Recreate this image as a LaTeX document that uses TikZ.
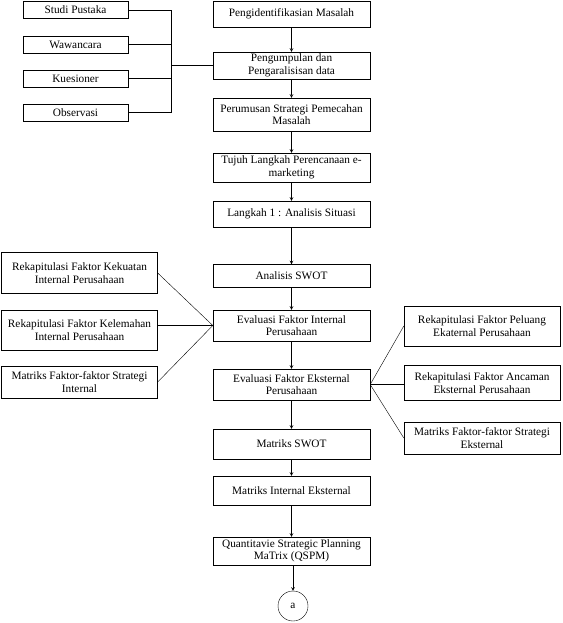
\documentclass[tikz,border=0pt]{standalone}
\usepackage{fontspec}
\setmainfont{Liberation Serif}
\usetikzlibrary{positioning}

\begin{document}
\begin{tikzpicture}[x=1pt,y=-1pt,->,>=stealth,semithick,
    main node/.style={draw,rectangle,thin,minimum width=157pt,align=center,inner xsep=0pt,inner ysep=1pt,font=\fontsize{11.3}{12.5}\selectfont},
    side node/.style={draw,rectangle,thin,minimum width=105pt,minimum height=17pt,inner sep=1pt,font=\fontsize{11.3}{12.5}\selectfont},
    faktor node/.style={draw,rectangle,thin,minimum width=156pt,align=center,inner xsep=0pt,inner ysep=1pt,font=\fontsize{11.3}{12.5}\selectfont}]

    \useasboundingbox (0,0) rectangle (562,623);

    % alur utama
    \node[main node, minimum height=26pt] (1) at (291.5,14) {Pengidentifikasian Masalah};
    \node[main node, minimum height=27pt] (2) at (291.5,65.5) {Pengumpulan dan\\ Pengaralisisan data};
    \node[main node, minimum height=33pt] (3) at (291.5,114.5) {Perumusan Strategi Pemecahan\\ Masalah};
    \node[main node, minimum height=29pt] (4) at (291.5,167.5) {Tujuh Langkah Perencanaan e-\\ marketing};
    \node[main node, minimum height=26pt] (5) at (291.5,214) {Langkah 1 : Analisis Situasi};
    \node[main node, minimum height=23pt] (6) at (291.5,276) {Analisis SWOT};
    \node[main node, minimum height=31pt] (7) at (291.5,325.5) {Evaluasi Faktor Internal\\ Perusahaan};
    \node[main node, minimum height=31pt] (8) at (291.5,384.5) {Evaluasi Faktor Eksternal\\ Perusahaan};
    \node[main node, minimum height=30pt] (9) at (291.5,444) {Matriks SWOT};
    \node[main node, minimum height=29pt] (10) at (291.5,490.5) {Matriks Internal Eksternal};
    \node[main node, minimum height=28pt] (11) at (291.5,551) {Quantitavie Strategic Planning\\ MaTrix (QSPM)};
    \node[circle, draw, thin, minimum size=30pt, inner sep=0pt, font=\fontsize{11.3}{12.5}\selectfont] (a) at (293,606) {a};

    % pengumpulan data
    \node[side node] (sp) at (75.5,10) {Studi Pustaka};
    \node[side node] (ww) at (75.5,44.5) {Wawancara};
    \node[side node] (ks) at (75.5,78.5) {Kuesioner};
    \node[side node] (ob) at (75.5,112.5) {Observasi};
    \coordinate (j) at (171,65.5);

    % faktor internal
    \node[faktor node, minimum height=41pt] (fi1) at (79.5,273) {Rekapitulasi Faktor Kekuatan\\ Internal Perusahaan};
    \node[faktor node, minimum height=40pt] (fi2) at (79.5,330) {Rekapitulasi Faktor Kelemahan\\ Internal Perusahaan};
    \node[faktor node, minimum height=32pt] (fi3) at (79.5,382) {Matriks Faktor-faktor Strategi\\ Internal};

    % faktor eksternal
    \node[faktor node, minimum height=40pt] (fe1) at (482,326) {Rekapitulasi Faktor Peluang\\ Ekaternal Perusahaan};
    \node[faktor node, minimum height=35pt] (fe2) at (482,383) {Rekapitulasi Faktor Ancaman\\ Eksternal Perusahaan};
    \node[faktor node, minimum height=32pt] (fe3) at (482,438) {Matriks Faktor-faktor Strategi\\ Eksternal};

    \foreach \i/\j in {1/2,2/3,3/4,4/5,5/6,6/7,7/8,8/9,9/10,10/11}
        \draw (\i) to (\j);
    \draw (11.south -| a) to (a);

    \draw[-,thin] (sp.east) -| (j);
    \draw[-,thin] (ob.east) -| (j);
    \draw[-,thin] (ww.east) -- (ww.east -| j);
    \draw[-,thin] (ks.east) -- (ks.east -| j);
    \draw[-,thin] (j) -- (2.west);

    \draw[-,thin] (fi1.east) -- (7.west);
    \draw[-,thin] (7.west -| fi2.east) -- (7.west);
    \draw[-,thin] (fi3.east) -- (7.west);

    \draw[-,thin] (8.east) -- (fe1.west);
    \draw[-,thin] (8.east) -- (8.east -| fe2.west);
    \draw[-,thin] (8.east) -- (fe3.west);

\end{tikzpicture}
\end{document}
